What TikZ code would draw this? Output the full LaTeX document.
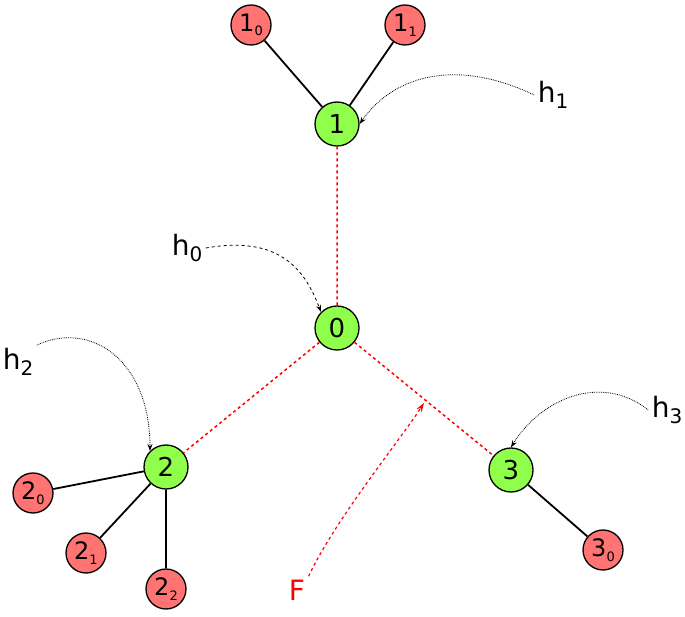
\documentclass[tikz,border=0pt]{standalone}
\usepackage{fontspec}
\setmainfont{DejaVu Sans}
\usetikzlibrary{arrows.meta}
\newcommand{\mysub}[2][13]{\raisebox{-0.35ex}{\fontsize{#1}{#1}\selectfont #2}}
\begin{document}
\begin{tikzpicture}[x=1pt,y=-1pt,
  gn/.style={circle,draw=black,line width=1.3pt,fill=green!50!lime!70!white,minimum size=44pt,inner sep=0pt,font=\fontsize{26}{26}\selectfont},
  rn/.style={circle,draw=black,line width=1.3pt,fill=red!55!white,minimum size=40pt,inner sep=0pt,font=\fontsize{24}{24}\selectfont},
  lbl/.style={font=\fontsize{28}{28}\selectfont},
  hd/.style={densely dotted,line width=0.8pt,-{Stealth[length=7pt,width=5pt]}},
  rd/.style={red,dashed,line width=1.5pt}]
\useasboundingbox (0,0) rectangle (685,617);
\node[gn] (n1) at (337,124) {1};
\node[gn] (n0) at (337,328) {0};
\node[gn] (n2) at (166,467) {2};
\node[gn] (n3) at (511,470) {3};
\node[rn] (n10) at (251,25) {1\mysub{0}};
\node[rn] (n11) at (405,25) {1\mysub{1}};
\node[rn] (n20) at (33,493) {2\mysub{0}};
\node[rn] (n21) at (86,553) {2\mysub{1}};
\node[rn] (n22) at (166,589) {2\mysub{2}};
\node[rn] (n30) at (603,550) {3\mysub{0}};
\draw[line width=1.8pt] (n1)--(n10) (n1)--(n11) (n2)--(n20) (n2)--(n21) (n2)--(n22) (n3)--(n30);
\draw[rd] (n0)--(n1) (n0)--(n2) (n0)--(n3);
\node[lbl] (h1) at (553,95) {h\mysub[20]{1}};
\node[lbl] (h0) at (187,248) {h\mysub[20]{0}};
\node[lbl] (h2) at (18,362) {h\mysub[20]{2}};
\node[lbl] (h3) at (667,410) {h\mysub[20]{3}};
\node[lbl,red] (F) at (297,590) {F};
\coordinate (fe) at (424,403);
\draw[hd] (h1.west) .. controls (450,55) and (390,80) .. (n1.east);
\draw[hd,dashed] (h0.east) .. controls (280,235) and (305,270) .. (n0.north west);
\draw[hd] (h2.north east) .. controls (90,320) and (150,360) .. (n2.north west);
\draw[hd] (h3.west) .. controls (600,372) and (540,400) .. (n3.north);
\draw[red,dashed,line width=1.2pt,-{Stealth[length=9pt,width=6pt]}] (F.north east) .. controls (335,520) and (400,440) .. (fe);
\end{tikzpicture}
\end{document}
